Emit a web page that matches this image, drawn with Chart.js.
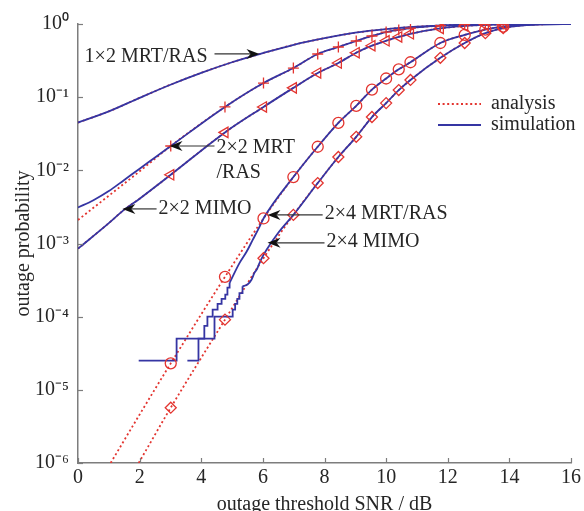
<!DOCTYPE html>
<html><head><meta charset="utf-8">
<script src="https://cdn.jsdelivr.net/npm/chart.js@4.4.0/dist/chart.umd.min.js"></script>
<style>html,body{margin:0;padding:0;background:#fff}#wrap{width:584px;height:511px}</style>
</head><body><div id="wrap"><canvas id="c" width="584" height="511"></canvas></div>
<script>
// ---- tick labels ----
const xTicks = [0,2,4,6,8,10,12,14,16];
const yTicks = [1e-6,1e-5,1e-4,1e-3,1e-2,1e-1,1];
const yTickLabels = ['10⁻⁶','10⁻⁵','10⁻⁴','10⁻³','10⁻²','10⁻¹','10⁰'];

// SNR thresholds (dB) where markers are placed
const snrMarkers = [3.01,4.77,6.02,6.99,7.78,8.45,9.03,9.54,10,10.41,10.79,11.76,12.55,13.22,13.8];

// 1x2 MRT/RAS
const snr12 = [0,1,2,3,4,5,6,7,8,9,10,11,12,13,14,15,16];
const ana12 = [0.045,0.064,0.098,0.148,0.215,0.30,0.40,0.52,0.64,0.76,0.85,0.92,0.96,0.985,0.995,1,1];
const sim12 = [0.045,0.064,0.098,0.148,0.215,0.30,0.40,0.52,0.64,0.76,0.85,0.92,0.96,0.985,0.995,1,1];

// 2x2 MRT/RAS
const snr22r = [0,1,2,3.01,4.77,6.02,6.99,7.78,8.45,9.03,9.54,10,10.41,10.79,11.76,12.55,13.22,13.8,15,16];
const ana22r = [0.0021,0.0045,0.0097,0.0215,0.0735,0.156,0.25,0.389,0.485,0.586,0.686,0.775,0.83,0.88,0.95,0.98,0.993,0.998,1,1];
const snr22rSim = [0,0.5,1,1.5,2,2.5,3.01,4.77,6.02,6.99,7.78,8.45,9.03,9.54,10,10.41,10.79,11.76,12.55,13.22,13.8,15,16];
const sim22r = [0.0031,0.0039,0.0052,0.0074,0.0105,0.015,0.0215,0.0735,0.156,0.25,0.389,0.485,0.586,0.686,0.775,0.83,0.88,0.95,0.98,0.993,0.998,1,1];

// 2x2 MIMO
const snr22m = [0,1,1.5,2,3.01,4.77,6.02,6.99,7.78,8.45,9.03,9.54,10,10.41,10.79,11.76,12.55,13.22,13.8,15,16];
const ana22m = [0.00085,0.0019,0.0029,0.0041,0.0087,0.033,0.0735,0.134,0.214,0.293,0.405,0.505,0.59,0.665,0.735,0.87,0.94,0.975,0.99,1,1];
const sim22m = [0.00085,0.0019,0.0029,0.0041,0.0087,0.033,0.0735,0.134,0.214,0.293,0.405,0.505,0.59,0.665,0.735,0.87,0.94,0.975,0.99,1,1];

// 2x4 MRT/RAS
const snr24r = [1.06,2,3.01,4.77,6.02,6.99,7.78,8.45,9.03,9.54,10,10.41,10.79,11.76,12.55,13.22,13.8,15,16];
const ana24r = [1e-6,4.6e-6,2.3e-5,3.5e-4,0.0022,0.0081,0.021,0.0445,0.076,0.127,0.18,0.24,0.30,0.55,0.71,0.84,0.92,0.99,1];
const snr24rSimStep = [1.97,3.2,4.1,4.2,4.37,4.53,4.66,4.78,4.85,4.92];
const sim24rStep = [2.5e-5,5e-5,7.5e-5,1e-4,1.25e-4,1.5e-4,1.75e-4,2e-4,2.5e-4,2.9e-4];
const snr24rSim = [4.92,5.24,5.47,5.67,5.89,6.02,6.99,7.78,8.45,9.03,9.54,10,10.41,10.79,11.76,12.55,13.22,13.8,15,16];
const sim24r = [2.9e-4,5.4e-4,7.7e-4,1.12e-3,1.69e-3,2.2e-3,0.0081,0.021,0.0445,0.076,0.127,0.18,0.24,0.30,0.55,0.71,0.84,0.92,0.99,1];

// 2x4 MIMO
const snr24m = [1.97,3.01,4.77,6.02,6.99,7.78,8.45,9.03,9.54,10,10.41,10.79,11.76,12.55,13.22,13.8,15,16];
const ana24m = [1e-6,5.7e-6,9.1e-5,6.3e-4,0.00246,0.0067,0.0152,0.0287,0.0535,0.083,0.125,0.172,0.345,0.55,0.75,0.88,0.99,1];
const snr24mSimStep = [3.55,3.91,4.43,5.02,5.1,5.17,5.24,5.34];
const sim24mStep = [2.5e-5,5e-5,1e-4,1.25e-4,1.5e-4,1.75e-4,2.1e-4,2.6e-4];
const snr24mSim = [5.34,5.5,5.63,5.73,5.8,5.89,5.99,6.12,6.5,6.99,7.78,8.45,9.03,9.54,10,10.41,10.79,11.76,12.55,13.22,13.8,15,16];
const sim24m = [2.6e-4,2.75e-4,3.2e-4,4.0e-4,4.4e-4,5.4e-4,6.6e-4,8.2e-4,1.4e-3,0.00246,0.0067,0.0152,0.0287,0.0535,0.083,0.125,0.172,0.345,0.55,0.75,0.88,0.99,1];

// ---- styling ----
const RED = '#e3342f', BLUE = '#3535a3', AXIS = '#7d7d7d', TXT = '#262626';
const FONT = '"Liberation Serif", "Times New Roman", serif';
Chart.defaults.font.family = FONT;
Chart.defaults.font.size = 20;
Chart.defaults.color = TXT;

const pts = (xs, ys) => xs.map((x,i) => ({x, y: ys[i]}));
const markPts = (xs, ys) => pts(xs, ys).filter(p => snrMarkers.includes(p.x));

const ana = (xs, ys) => ({type:'line', data: pts(xs, ys), borderColor: RED, borderWidth: 1.8, borderDash:[2,2.6], pointRadius:0, cubicInterpolationMode:'monotone', order:3});
const sim = (xs, ys) => ({type:'line', data: pts(xs, ys), borderColor: BLUE, borderWidth: 1.8, pointRadius:0, cubicInterpolationMode:'monotone', order:2});
const simStep = (xs, ys) => ({type:'line', data: pts(xs, ys), borderColor: BLUE, borderWidth: 1.8, pointRadius:0, stepped:'before', order:2});
const mk = (xs, ys, style, rot, r) => ({type:'line', data: markPts(xs, ys), showLine:false, pointStyle: style, rotation: rot, pointRadius: r, pointBorderColor: RED, pointBackgroundColor:'rgba(0,0,0,0)', pointBorderWidth:1.3, order:1});

const datasets = [
  ana(snr12, ana12), sim(snr12, sim12),
  ana(snr22r, ana22r), sim(snr22rSim, sim22r), mk(snr22r, ana22r, 'cross', 0, 5.5),
  ana(snr22m, ana22m), sim(snr22m, sim22m), mk(snr22m, ana22m, 'triangle', 270, 6),
  ana(snr24r, ana24r), simStep(snr24rSimStep, sim24rStep), sim(snr24rSim, sim24r), mk(snr24r, ana24r, 'circle', 0, 5.5),
  ana(snr24m, ana24m), simStep(snr24mSimStep, sim24mStep), sim(snr24mSim, sim24m), mk(snr24m, ana24m, 'rectRot', 0, 5.5)
];

// annotations: tip in data coordinates, tail x in dB
const notes = [
  {lines:['1×2 MRT/RAS'], tip:[5.89,0.39], tail:4.43, dy:3},
  {lines:['2×2 MRT','/RAS'], tip:[2.97,0.0215], tail:4.43, dy:2},
  {lines:['2×2 MIMO'], tip:[1.44,0.00297], tail:2.55, dy:0},
  {lines:['2×4 MRT/RAS'], tip:[6.15,0.00246], tail:7.94, dy:-1},
  {lines:['2×4 MIMO'], tip:[6.15,0.00102], tail:8.0, dy:-1}
];
const legendItems = [
  {label:'analysis', color:RED, dash:[2,2.6]},
  {label:'simulation', color:BLUE, dash:[]}
];

function arrowHead(ctx, x, y, d){
  ctx.beginPath();
  ctx.moveTo(x, y);
  ctx.lineTo(x - d*13, y - 5);
  ctx.lineTo(x - d*9, y);
  ctx.lineTo(x - d*13, y + 5);
  ctx.closePath();
  ctx.fillStyle = '#111';
  ctx.fill();
}

const decor = {
  id:'decor',
  afterDatasetsDraw(chart){
    const {ctx, chartArea:a} = chart;
    const xs = chart.scales.x, ys = chart.scales.y;
    ctx.save();
    // inward tick marks
    ctx.strokeStyle = AXIS; ctx.lineWidth = 1.2;
    xTicks.forEach(v => { const px = Math.round(xs.getPixelForValue(v))+0.5; ctx.beginPath(); ctx.moveTo(px, a.bottom); ctx.lineTo(px, a.bottom-5); ctx.stroke(); });
    yTicks.forEach(v => { const py = Math.round(ys.getPixelForValue(v))+0.5; ctx.beginPath(); ctx.moveTo(a.left, py); ctx.lineTo(a.left+5, py); ctx.stroke(); });
    // annotations
    ctx.font = '20px ' + FONT;
    ctx.textBaseline = 'middle';
    notes.forEach(n => {
      const tx = xs.getPixelForValue(n.tip[0]), ty = ys.getPixelForValue(n.tip[1]);
      const ex = xs.getPixelForValue(n.tail);
      const d = tx > ex ? 1 : -1;
      ctx.strokeStyle = '#333'; ctx.lineWidth = 1.2; ctx.setLineDash([]);
      ctx.beginPath(); ctx.moveTo(ex, ty); ctx.lineTo(tx - d*9, ty); ctx.stroke();
      arrowHead(ctx, tx, ty, d);
      ctx.fillStyle = TXT;
      n.lines.forEach((t, i) => {
        if (d > 0) { ctx.textAlign = 'right'; ctx.fillText(t, ex - 7, ty + n.dy + i*25); }
        else { ctx.textAlign = 'left'; ctx.fillText(t, ex + 2, ty + n.dy + i*25); }
      });
    });
    // legend
    legendItems.forEach((it, i) => {
      const y = 104 + i*21;
      ctx.strokeStyle = it.color; ctx.lineWidth = 1.8; ctx.setLineDash(it.dash);
      ctx.beginPath(); ctx.moveTo(438, y); ctx.lineTo(481, y); ctx.stroke();
      ctx.setLineDash([]);
      ctx.fillStyle = TXT; ctx.textAlign = 'left';
      ctx.fillText(it.label, 491, y);
    });
    ctx.restore();
  }
};

new Chart(document.getElementById('c'), {
  type:'line',
  data:{datasets},
  plugins:[decor],
  options:{
    responsive:false, animation:false, events:[],
    layout:{padding:{top:24, right:12, left:0, bottom:0}},
    plugins:{legend:{display:false}, tooltip:{enabled:false}},
    scales:{
      x:{type:'linear', min:0, max:16,
        afterBuildTicks: s => { s.ticks = xTicks.map(v => ({value:v})); },
        afterFit: s => { s.height = 48; },
        grid:{display:false, drawTicks:false},
        border:{display:true, color:AXIS, width:1.5},
        ticks:{padding:3, maxRotation:0, autoSkip:false, color:TXT, font:{size:20}},
        title:{display:true, text:'outage threshold SNR / dB', color:TXT, font:{size:20, lineHeight:1}, padding:{top:0, bottom:-4}}
      },
      y:{type:'logarithmic', min:1e-6, max:1,
        afterBuildTicks: s => { s.ticks = yTicks.map(v => ({value:v})); },
        afterFit: s => { s.width = 78; },
        grid:{display:false, drawTicks:false},
        border:{display:true, color:AXIS, width:1.5},
        ticks:{padding:9, autoSkip:false, color:TXT, font:{size:20},
          callback: v => { const i = yTicks.findIndex(t => Math.abs(Math.log10(t) - Math.log10(v)) < 1e-6); return i >= 0 ? yTickLabels[i] : ''; }},
        title:{display:true, text:'outage probability', color:TXT, font:{size:20, lineHeight:1}, padding:{top:14, bottom:0}}
      }
    }
  }
});
</script></body></html>
